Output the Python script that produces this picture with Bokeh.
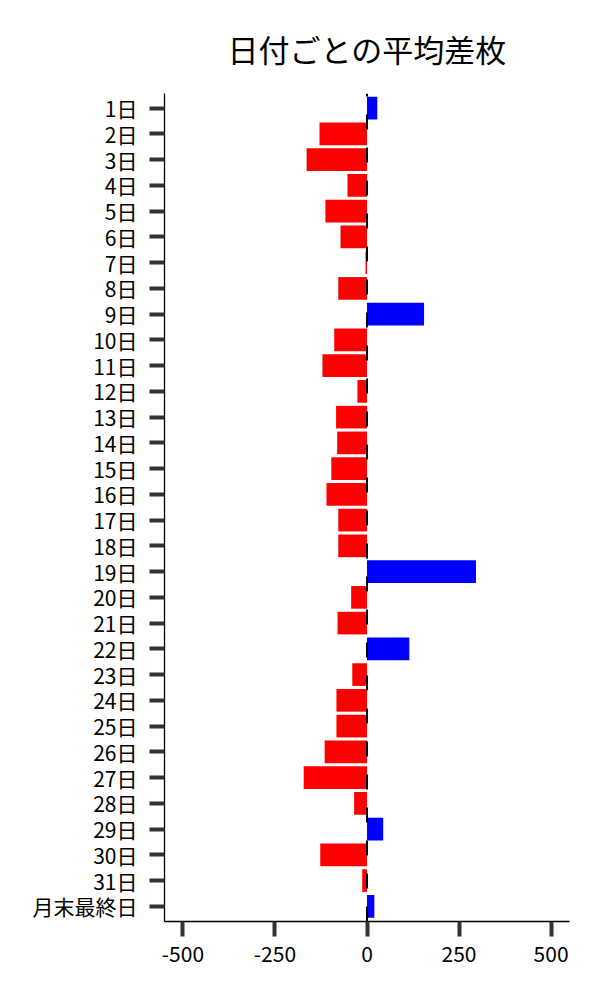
from bokeh.plotting import figure
from bokeh.models import Range1d, FixedTicker, ColumnDataSource
from bokeh.embed import file_html
from bokeh.resources import INLINE

title_text = "日付ごとの平均差枚"
days = ["1日", "2日", "3日", "4日", "5日", "6日", "7日", "8日", "9日", "10日",
        "11日", "12日", "13日", "14日", "15日", "16日", "17日", "18日", "19日", "20日",
        "21日", "22日", "23日", "24日", "25日", "26日", "27日", "28日", "29日", "30日",
        "31日", "月末最終日"]
diffs = [28, -129, -164, -53, -113, -72, -4, -78, 155, -89,
         -121, -26, -84, -81, -97, -110, -78, -78, 296, -43,
         -80, 115, -40, -83, -83, -115, -172, -35, 44, -127,
         -13, 20]
x_ticks = [-500, -250, 0, 250, 500]
x_tick_labels = ["-500", "-250", "0", "250", "500"]

FONT = "Noto Sans CJK JP"
pos = list(range(len(days)))
colors = ["#0000ff" if v >= 0 else "#ff0000" for v in diffs]
src = ColumnDataSource(dict(y=pos, v=diffs, c=colors))

y_bottom = len(days) - 1 + 0.59
y_top = -0.57

p = figure(width=592, height=992,
           x_range=Range1d(-550, 550), y_range=Range1d(y_bottom, y_top),
           output_backend="svg", toolbar_location=None,
           min_border_left=164, min_border_right=23,
           min_border_top=93, min_border_bottom=71)

p.hbar(y="y", left=0, right="v", height=0.88, fill_color="c",
       line_color=None, source=src)
p.segment(x0=[0], y0=[y_bottom], x1=[0], y1=[y_top],
          line_color="black", line_width=2, line_dash="15 18")

p.title.text = title_text
p.title.align = "center"
p.title.text_font = FONT
p.title.text_font_size = "31px"
p.title.text_font_style = "normal"
p.title.text_color = "black"
p.title.standoff = 46

p.xgrid.visible = False
p.ygrid.visible = False
p.outline_line_color = None
p.background_fill_color = "white"
p.border_fill_color = "white"

p.xaxis.ticker = FixedTicker(ticks=x_ticks)
p.xaxis.major_label_overrides = dict(zip(x_ticks, x_tick_labels))
p.yaxis.ticker = FixedTicker(ticks=pos)
p.yaxis.major_label_overrides = {i: lab for i, lab in enumerate(days)}

for ax in (p.xaxis, p.yaxis):
    ax.axis_line_color = "black"
    ax.axis_line_width = 1.3
    ax.major_tick_in = 0
    ax.major_tick_out = 15
    ax.major_tick_line_width = 4
    ax.major_tick_line_color = "#333333"
    ax.minor_tick_line_color = None
    ax.major_label_text_font = FONT
    ax.major_label_text_font_size = "21px"
    ax.major_label_text_color = "black"

p.yaxis.major_label_standoff = 12
p.xaxis.major_label_standoff = 9

open("out.html", "w").write(file_html(p, INLINE))
